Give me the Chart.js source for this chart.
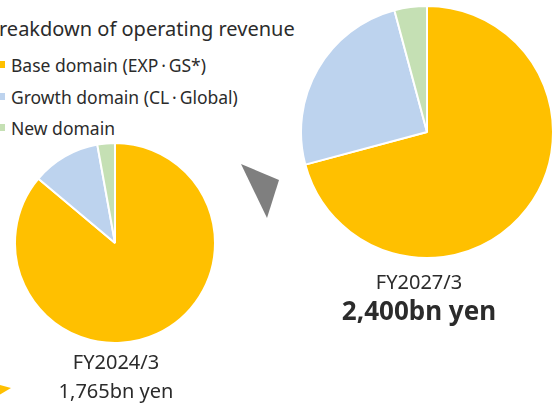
<!DOCTYPE html>
<html>
<head>
<meta charset="utf-8">
<script src="https://cdn.jsdelivr.net/npm/chart.js@4/dist/chart.umd.min.js"></script>
<style>
  body { margin: 0; width: 557px; height: 405px; background: #fff; overflow: hidden; position: relative;
         font-family: "Noto Sans", "Open Sans", sans-serif; color: #2b2b2b; }
  .abs { position: absolute; }
  .title { left: -14px; top: 15px; font-size: 20px; white-space: nowrap; }
  .legend { left: 0; font-size: 17.5px; white-space: nowrap; }
  .legend i { display: inline-block; width: 7px; height: 7px; margin-right: 6px; vertical-align: 4px; }
  .lbl { text-align: center; white-space: nowrap; transform: translateX(-50%); }
  #leftBox { left: 14px; top: 142px; width: 202px; height: 202px; }
  #rightBox { left: 300px; top: 5px; width: 254px; height: 254px; }
</style>
</head>
<body>
<div class="abs title">Breakdown of operating revenue</div>
<div id="legend"></div>

<div class="abs" id="leftBox"><canvas id="pieLeft"></canvas></div>
<div class="abs" id="rightBox"><canvas id="pieRight"></canvas></div>

<svg class="abs" style="left:0;top:0" width="557" height="405">
  <polygon points="241,164 279,180 267,218" fill="#7f7f7f" />
  <polygon points="-4,384 11,388 -4,397" fill="#ffc000" />
</svg>

<div class="abs lbl" style="left:116px;top:348px;font-size:20px">FY2024/3</div>
<div class="abs lbl" style="left:116px;top:377px;font-size:20px">1,765bn yen</div>
<div class="abs lbl" style="left:419px;top:268px;font-size:20px">FY2027/3</div>
<div class="abs lbl" style="left:419px;top:292px;font-size:26px;font-weight:bold">2,400bn yen</div>

<script>
// operating revenue by domain, bn yen
const domains = ["Base domain (EXP\u2009\u00B7\u2009GS*)", "Growth domain (CL\u2009\u00B7\u2009Global)", "New domain"];
const colors = ["#ffc000", "#bdd3ee", "#c5e0b4"];
const fy2024 = [1520, 195, 50];
const fy2027 = [1700, 600, 100];

// legend
const legend = document.getElementById("legend");
domains.forEach((name, i) => {
  const row = document.createElement("div");
  row.className = "abs legend";
  row.style.top = (53 + i * 31.5) + "px";
  row.style.left = "-2px";
  row.innerHTML = `<i style="background:${colors[i]}"></i>${name}`;
  legend.appendChild(row);
});

function makePie(id, values) {
  return new Chart(document.getElementById(id), {
    type: "pie",
    data: {
      labels: domains,
      datasets: [{
        data: values,
        backgroundColor: colors,
        borderColor: "#fff",
        borderWidth: 2,
        hoverOffset: 0,
      }],
    },
    options: {
      responsive: true,
      maintainAspectRatio: false,
      animation: false,
      layout: { padding: 0 },
      plugins: {
        legend: { display: false },
        tooltip: { enabled: false },
      },
    },
  });
}

makePie("pieLeft", fy2024);
makePie("pieRight", fy2027);
</script>
</body>
</html>
